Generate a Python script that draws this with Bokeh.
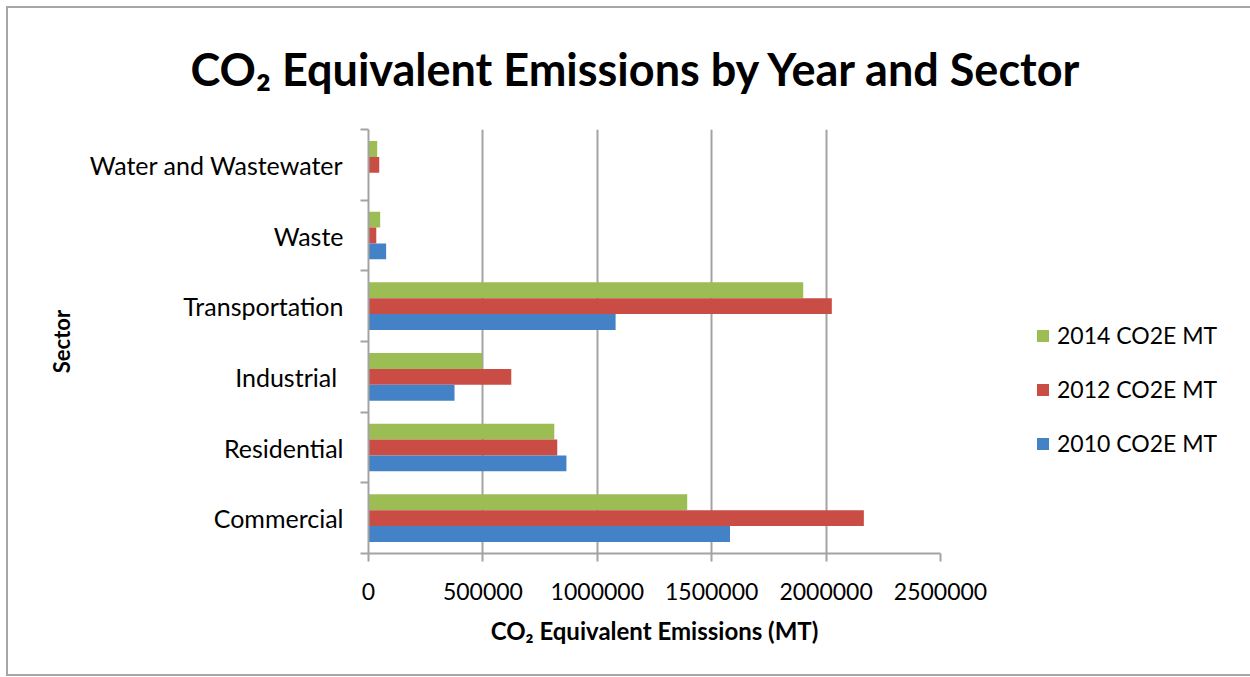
from bokeh.plotting import figure
from bokeh.models import (ColumnDataSource, FixedTicker, NumeralTickFormatter,
                          Legend, LegendItem, Title, Range1d)
from bokeh.transform import dodge
from bokeh.embed import file_html
from bokeh.resources import INLINE

# ---- data ----
sectors = ["Commercial", "Residential", "Industrial ", "Transportation",
           "Waste", "Water and Wastewater"]
co2e_2010 = [1580000, 865000, 376000, 1080000, 77000, 0]
co2e_2012 = [2165000, 825000, 624000, 2025000, 34000, 47000]
co2e_2014 = [1393000, 812000, 497000, 1900000, 51000, 38000]
series_labels = ["2014 CO2E MT", "2012 CO2E MT", "2010 CO2E MT"]
x_ticks = [0, 500000, 1000000, 1500000, 2000000, 2500000]

FONT = "Lato"
GRAY = "#a3a3a3"
C2010, C2012, C2014 = "#4382c6", "#c94c45", "#9cbd53"

centers = [i + 0.5 for i in range(len(sectors))]
src = ColumnDataSource(dict(y=centers, v2010=co2e_2010, v2012=co2e_2012,
                            v2014=co2e_2014))

p = figure(frame_width=572, frame_height=424, output_backend="svg",
           toolbar_location=None,
           x_range=Range1d(0, 2500000), y_range=Range1d(0, len(sectors)),
           min_border_left=360, min_border_right=304,
           min_border_top=121, min_border_bottom=121)
p.styles = {"margin-left": "6px", "margin-top": "6px",
            "border": "2px solid #a6a6a6"}
p.outline_line_color = None
p.background_fill_color = "white"
p.border_fill_color = "white"

bh = 0.225
r14 = p.hbar(y=dodge("y", bh, range=p.y_range), right="v2014", height=bh,
             left=0, source=src, fill_color=C2014, line_color=None)
r12 = p.hbar(y="y", right="v2012", height=bh, left=0, source=src,
             fill_color=C2012, line_color=None)
r10 = p.hbar(y=dodge("y", -bh, range=p.y_range), right="v2010", height=bh,
             left=0, source=src, fill_color=C2010, line_color=None)

# x axis
xa = p.xaxis[0]
xa.ticker = FixedTicker(ticks=x_ticks)
xa.formatter = NumeralTickFormatter(format="0")
xa.axis_line_color = GRAY
xa.axis_line_width = 2
xa.major_tick_line_color = GRAY
xa.major_tick_line_width = 2
xa.major_tick_in = 0
xa.major_tick_out = 8
xa.minor_tick_line_color = None
xa.major_label_text_font = FONT
xa.major_label_text_font_size = "23px"
xa.major_label_text_color = "black"
xa.major_label_standoff = 21
xa.axis_label = "CO\u2082 Equivalent Emissions (MT)"
xa.axis_label_text_font = FONT
xa.axis_label_text_font_size = "24px"
xa.axis_label_text_font_style = "bold"
xa.axis_label_text_color = "black"
xa.axis_label_standoff = 13

# y axis
ya = p.yaxis[0]
ya.ticker = FixedTicker(ticks=centers, minor_ticks=list(range(len(sectors) + 1)))
ya.major_label_overrides = {c: s for c, s in zip(centers, sectors)}
ya.axis_line_color = GRAY
ya.axis_line_width = 2
ya.major_tick_line_color = None
ya.major_tick_out = 0
ya.major_tick_in = 0
ya.minor_tick_line_color = GRAY
ya.minor_tick_line_width = 2
ya.minor_tick_in = 0
ya.minor_tick_out = 8
ya.major_label_text_font = FONT
ya.major_label_text_font_size = "25px"
ya.major_label_text_color = "black"
ya.major_label_standoff = 17
ya.axis_label = "Sector"
ya.axis_label_text_font = FONT
ya.axis_label_text_font_size = "22px"
ya.axis_label_text_font_style = "bold"
ya.axis_label_text_color = "black"
ya.axis_label_standoff = 12

p.xgrid.grid_line_color = GRAY
p.xgrid.grid_line_width = 2
p.ygrid.grid_line_color = None

# title
p.title = Title(text="CO\u2082 Equivalent Emissions by Year and Sector",
                align="left", vertical_align="top", text_font=FONT,
                text_font_size="45px", text_font_style="bold",
                text_color="black", standoff=64, offset=-178)

legend = Legend(items=[LegendItem(label=series_labels[0], renderers=[r14]),
                       LegendItem(label=series_labels[1], renderers=[r12]),
                       LegendItem(label=series_labels[2], renderers=[r10])],
                location=(95, 96), orientation="vertical",
                glyph_width=15, glyph_height=15, label_standoff=7,
                spacing=26, padding=0, margin=0,
                label_text_font=FONT, label_text_font_size="23px",
                label_text_color="black", border_line_color=None,
                background_fill_alpha=0)
p.add_layout(legend, "right")

open("out.html", "w").write(file_html(p, INLINE))
